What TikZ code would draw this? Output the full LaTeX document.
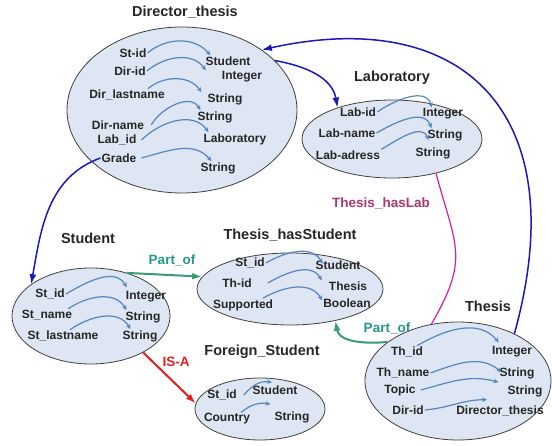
\documentclass[tikz,border=0pt]{standalone}
\usepackage{fontspec}
\setmainfont{Liberation Sans}
\usetikzlibrary{shapes.geometric,arrows.meta}
\definecolor{ellfill}{RGB}{221,230,242}
\definecolor{arrblue}{RGB}{84,134,192}
\definecolor{linkblue}{RGB}{25,25,190}
\definecolor{partgreen}{RGB}{55,155,115}
\definecolor{parttext}{RGB}{40,150,140}
\definecolor{isared}{RGB}{228,30,30}
\definecolor{labline}{RGB}{210,30,175}
\definecolor{labtext}{RGB}{170,55,115}
\begin{document}
\begin{tikzpicture}[x=1pt,y=-1pt,
    cls/.style={ellipse,draw=black!75,line width=0.8pt,fill=ellfill,inner sep=0pt},
    ttl/.style={font=\fontsize{14.5}{16}\selectfont\bfseries,text=black!85,inner sep=1pt},
    att/.style={font=\fontsize{12}{14}\selectfont\bfseries,text=black!85,inner sep=1pt},
    lbl/.style={font=\fontsize{13.5}{15}\selectfont\bfseries,inner sep=1pt},
    inarr/.style={draw=arrblue,line width=1.2pt,-{Stealth[length=5pt,width=4.5pt]}},
    blink/.style={draw=linkblue,line width=1.5pt,-{Latex[length=10pt,width=7pt]}}]
    \useasboundingbox (0,0) rectangle (552,446);
    % classes
    \node[cls,minimum width=230pt,minimum height=166pt] (D) at (182,110) {};
    \node[cls,minimum width=180pt,minimum height=78pt] (L) at (392,139) {};
    \node[cls,minimum width=158pt,minimum height=96pt] (S) at (91,316) {};
    \node[cls,minimum width=186pt,minimum height=72pt] (H) at (290,289) {};
    \node[cls,minimum width=130pt,minimum height=62pt] (F) at (260,409) {};
    \node[cls,minimum width=186pt,minimum height=118pt] (T) at (458,381) {};
    % titles
    \node[ttl] (Dt) at (185,12) {Director\_thesis};
    \node[ttl] (Lt) at (392,78) {Laboratory};
    \node[ttl] (St) at (88,238) {Student};
    \node[ttl] (Ht) at (290,235) {Thesis\_hasStudent};
    \node[ttl] (Ft) at (262,352) {Foreign\_Student};
    \node[ttl] (Tt) at (488,306) {Thesis};
    % Director_thesis
    \node[att] (dsid) at (133,53) {St-id};
    \node[att] (ddid) at (130,71) {Dir-id};
    \node[att] (dlast) at (127,95) {Dir\_lastname};
    \node[att] (dname) at (118,125) {Dir-name};
    \node[att] (dlab) at (117,140) {Lab\_id};
    \node[att] (dgrade) at (119,158) {Grade};
    \node[att] (dtstu) at (228,61) {Student};
    \node[att] (dtint) at (242,77) {Integer};
    \node[att] (dtstra) at (225,99) {String};
    \node[att] (dtstrb) at (215,117) {String};
    \node[att] (dtlab) at (235,139) {Laboratory};
    \node[att] (dtstrc) at (218,168) {String};
    \draw[inarr] (dsid.east) to[out=40,in=130] ([xshift=6pt]dtstu.north west);
    \draw[inarr] (ddid.east) to[out=40,in=125] ([xshift=-15pt]dtint.north west);
    \draw[inarr] ([xshift=-18pt]dlast.north east) to[out=40,in=125] ([xshift=-5pt]dtstra.north west);
    \draw[inarr] ([xshift=6pt]dname.east) to[out=60,in=120] ([xshift=4pt]dtstrb.north west);
    \draw[inarr] ([xshift=4pt]dlab.east) to[out=45,in=125] ([xshift=6pt]dtlab.north west);
    \draw[inarr] ([xshift=4pt]dgrade.east) to[out=15,in=130] ([xshift=12pt]dtstrc.north west);
    % Laboratory
    \node[att] (lid) at (358,112) {Lab-id};
    \node[att] (lname) at (347,133) {Lab-name};
    \node[att] (ladr) at (348,155) {Lab-adress};
    \node[att] (ltint) at (443,114) {Integer};
    \node[att] (ltstra) at (445,135) {String};
    \node[att] (ltstrb) at (433,153) {String};
    \draw[inarr] (lid.east) to[out=35,in=105] ([xshift=10pt]ltint.north west);
    \draw[inarr] (lname.east) to[out=30,in=110] ([xshift=5pt]ltstra.north west);
    \draw[inarr] (ladr.north east) to[out=30,in=110] ([xshift=14pt,yshift=6pt]ltstrb.north west);
    % Student
    \node[att] (ssid) at (50,294) {St\_id};
    \node[att] (sname) at (47,315) {St\_name};
    \node[att] (slast) at (63,336) {St\_lastname};
    \node[att] (stint) at (146,297) {Integer};
    \node[att] (ststra) at (143,317) {String};
    \node[att] (ststrb) at (140,336) {String};
    \draw[inarr] (ssid.east) to[out=30,in=120] ([xshift=2pt,yshift=3pt]stint.north west);
    \draw[inarr] ([xshift=-5pt]sname.north east) to[out=35,in=120] ([xshift=2pt]ststra.north west);
    \draw[inarr] ([xshift=7pt]slast.north) to[out=35,in=120] ([xshift=9pt]ststrb.north west);
    % Thesis_hasStudent
    \node[att] (hsid) at (250,263) {St\_id};
    \node[att] (hthid) at (237,283) {Th-id};
    \node[att] (hsup) at (243,305) {Supported};
    \node[att] (htstu) at (338,265) {Student};
    \node[att] (htthe) at (348,286) {Thesis};
    \node[att] (htbool) at (347,303) {Boolean};
    \draw[inarr] (hsid.east) to[out=30,in=120] ([xshift=8pt,yshift=-4pt]htstu.north west);
    \draw[inarr] ([xshift=15pt]hthid.east) to[out=30,in=120] ([xshift=-6pt]htthe.north west);
    \draw[inarr] ([xshift=20pt]hsup.north) to[out=30,in=120] ([yshift=-3pt]htbool.north west);
    % Foreign_Student
    \node[att] (fsid) at (222,395) {St\_id};
    \node[att] (fcty) at (227,419) {Country};
    \node[att] (ftstu) at (275,390) {Student};
    \node[att] (ftstr) at (292,417) {String};
    \draw[inarr] ([xshift=6pt]fsid.east) to[out=50,in=170] ([xshift=-3pt,yshift=2pt]ftstu.north);
    \draw[inarr] ([xshift=-10pt]fcty.north east) to[out=40,in=170] ([xshift=-3pt,yshift=6pt]ftstr.north west);
    % Thesis
    \node[att] (ttid) at (407,352) {Th\_id};
    \node[att] (ttname) at (403,373) {Th\_name};
    \node[att] (ttop) at (400,390) {Topic};
    \node[att] (tdir) at (408,410) {Dir-id};
    \node[att] (ttint) at (512,352) {Integer};
    \node[att] (ttstra) at (517,373) {String};
    \node[att] (ttstrb) at (525,391) {String};
    \node[att] (ttdir) at (500,411) {Director\_thesis};
    \draw[inarr] ([xshift=10pt]ttid.north) to[out=30,in=130] ([xshift=8pt,yshift=3pt]ttint.north west);
    \draw[inarr] (ttname.east) to[out=20,in=140] ([xshift=3pt,yshift=-6pt]ttstra.north west);
    \draw[inarr] ([xshift=4pt]ttop.east) to[out=15,in=165] ([xshift=-8pt,yshift=2pt]ttstrb.north west);
    \draw[inarr] (tdir.east) to[out=5,in=180] ([xshift=-13pt,yshift=5pt]ttdir.north);
    % links between classes
    \draw[blink] (T.40) .. controls (575,115) and (465,5) .. (D.37);
    \draw[blink] (D.28) to[out=-10,in=100] (L.150);
    \draw[blink] (dgrade.west) to[out=200,in=80] (S.152);
    \draw[draw=partgreen,line width=2pt,-{Latex[length=10pt,width=7pt]}] (S.50) -- (H.172);
    \node[lbl,text=parttext] (po1) at (172,260) {Part\_of};
    \draw[draw=partgreen,line width=2pt,-{Latex[length=10pt,width=7pt]}] (T.151) to[out=185,in=-80] (H.-35);
    \node[lbl,text=parttext] (po2) at (387,328) {Part\_of};
    \draw[draw=labline,line width=1.2pt] (L.-38) to[out=-75,in=60,looseness=1.3] (T.115);
    \node[lbl,text=labtext] (hl) at (381,203) {Thesis\_hasLab};
    \draw[draw=isared,line width=2pt,-{Latex[length=10pt,width=7pt]}] (S.-35) -- (F.175);
    \node[lbl,text=isared] (isa) at (176,362) {IS-A};
\end{tikzpicture}
\end{document}
